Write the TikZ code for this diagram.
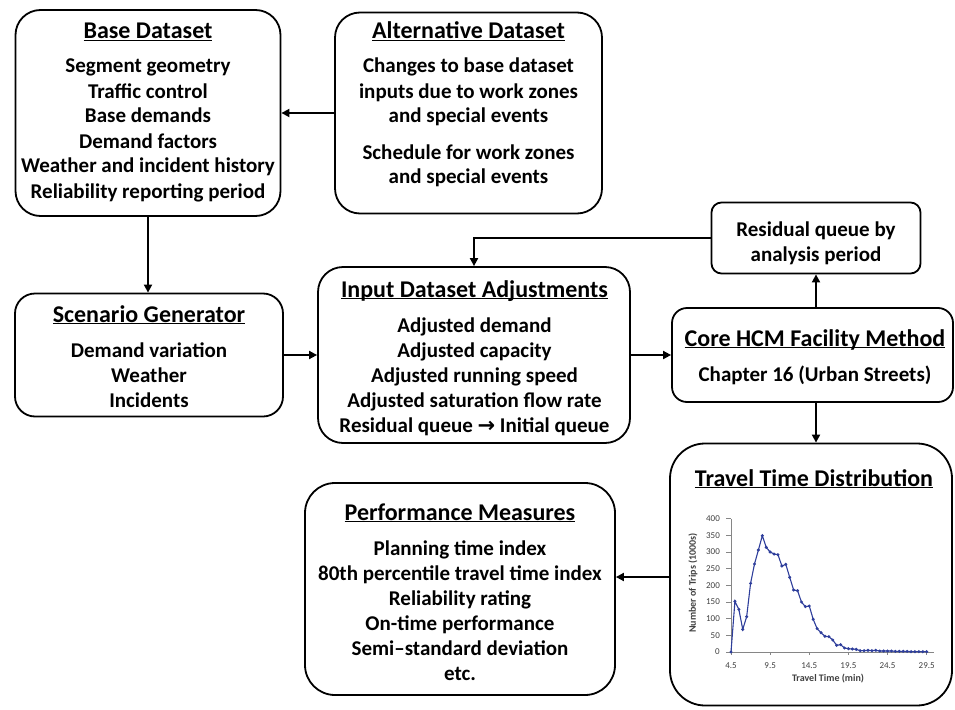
\documentclass[tikz,border=0pt]{standalone}
\usepackage{fontspec}
\setmainfont{Carlito}
\newfontfamily\arrowfnt{DejaVu Sans}
\usetikzlibrary{arrows.meta}
\definecolor{plotblue}{RGB}{46,62,155}
\definecolor{axisgray}{RGB}{134,134,134}
\definecolor{labgray}{RGB}{64,64,64}
\newcommand\bodyfnt{\fontsize{21}{25}\selectfont\bfseries}
\newcommand\ttlfnt{\fontsize{24}{25}\selectfont\bfseries}
\newcommand\ulttl[1]{{\ttlfnt\setbox0\hbox{#1}\rlap{\rule[-2.2pt]{\wd0}{1.1pt}}\box0}}
\begin{document}
\begin{tikzpicture}[x=1pt,y=-1pt,
  box/.style={draw, line width=1.8pt, inner sep=0pt},
  arr/.style={line width=1.8pt, -{Triangle[length=8pt,width=8pt]}},
  txt/.style={anchor=base, inner sep=0pt, font=\bodyfnt},
  tick/.style={inner sep=0pt, font=\fontsize{9}{10}\selectfont, text=labgray},
  axlab/.style={inner sep=0pt, font=\fontsize{10}{11}\selectfont\bfseries, text=labgray}]
\useasboundingbox (0,0) rectangle (955,709);

% boxes
\node[box, rounded corners=25pt, minimum width=265pt, minimum height=206pt] (base) at (148,113) {};
\node[box, rounded corners=25pt, minimum width=267pt, minimum height=201pt] (alt) at (468.5,113) {};
\node[box, rounded corners=20pt, minimum width=268pt, minimum height=123pt] (scen) at (149,355) {};
\node[box, rounded corners=25pt, minimum width=312pt, minimum height=176pt] (inp) at (474,355) {};
\node[box, rounded corners=10pt, minimum width=209pt, minimum height=71pt] (resid) at (816,238) {};
\node[box, rounded corners=15pt, minimum width=281pt, minimum height=94pt] (core) at (812.5,355) {};
\node[box, rounded corners=35pt, minimum width=282pt, minimum height=262pt] (trav) at (811,574.5) {};
\node[box, rounded corners=30pt, minimum width=310pt, minimum height=212pt] (perf) at (460,589) {};

% texts
\node[txt] (baset) at (148,39) {\begin{tabular}[t]{@{}c@{}}
\ulttl{Base Dataset}\\[9pt]
Segment geometry\\ Traffic control\\ Base demands\\ Demand factors\\
Weather and incident history\\ Reliability reporting period\end{tabular}};
\node[txt] (altt) at (468.5,39) {\begin{tabular}[t]{@{}c@{}}
\ulttl{Alternative Dataset}\\[9pt]
Changes to base dataset\\ inputs due to work zones\\ and special events\\[11pt]
Schedule for work zones\\ and special events\end{tabular}};
\node[txt] (scent) at (149,322) {\begin{tabular}[t]{@{}c@{}}
\ulttl{Scenario Generator}\\[10pt]
Demand variation\\ Weather\\ Incidents\end{tabular}};
\node[txt] (inpt) at (474.5,297) {\begin{tabular}[t]{@{}c@{}}
\ulttl{Input Dataset Adjustments}\\[10pt]
Adjusted demand\\ Adjusted capacity\\ Adjusted running speed\\
Adjusted saturation flow rate\\ Residual queue {\arrowfnt\bfseries →} Initial queue\end{tabular}};
\node[txt] (residt) at (816,236.7) {\begin{tabular}[t]{@{}c@{}}
Residual queue by\\ analysis period\end{tabular}};
\node[txt] (coret) at (815,346) {\begin{tabular}[t]{@{}c@{}}
\ulttl{Core HCM Facility Method}\\[10pt]
Chapter 16 (Urban Streets)\end{tabular}};
\node[txt] (travt) at (814,486) {\ulttl{Travel Time Distribution}};
\node[txt] (perft) at (460,520) {\begin{tabular}[t]{@{}c@{}}
\ulttl{Performance Measures}\\[10pt]
Planning time index\\ 80th percentile travel time index\\ Reliability rating\\
On-time performance\\ Semi–standard deviation\\ etc.\end{tabular}};

% connectors
\coordinate (pm) at (0,577);
\draw[arr] (alt.west) -- (base.east);
\draw[arr] (base.south) -- (base.south |- scen.north);
\draw[arr] (scen.east) -- (scen.east -| inp.west);
\draw[arr] (inp.east) -- (inp.east -| core.west);
\draw[arr] (core.north -| resid.south) -- (resid.south);
\draw[arr] (resid.west) -| (inp.north);
\draw[arr] (core.south -| resid.south) -- (resid.south |- trav.north);
\draw[arr] (trav.west |- pm) -- (perf.east |- pm);

% chart
\node[axlab, rotate=90] (ylab) at (693,583) {Number of Trips (1000s)};
\node[axlab] (xlab) at (828,679) {Travel Time (min)};
\begin{scope}[shift={(731,652)}, x=7.828pt, y=0.3333pt]
  \draw[axisgray, line width=0.8pt] (0,0) -- (0,400);
  \draw[axisgray, line width=0.8pt] (0,0) -- (25.9,0);
  \foreach \v in {0,50,...,400} {
    \draw[axisgray, line width=0.7pt] (0,\v) -- ++(-5pt,0pt);
    \node[tick, anchor=east, xshift=-11pt] (yl\v) at (0,\v) {\v};
  }
  \foreach \k/\lab in {0/4.5,5/9.5,10/14.5,15/19.5,20/24.5,25/29.5} {
    \draw[axisgray, line width=0.7pt] (\k,0) -- ++(0pt,-3pt);
    \node[tick, yshift=-14pt] (xl\k) at (\k,0) {\lab};
  }
  \draw[plotblue, line width=1.1pt, mark=*, mark size=0.9pt, mark options={fill=plotblue}]
    plot coordinates {(0,0) (0.5,152) (1,128) (1.5,68) (2,106) (2.5,206) (3,264) (3.5,306)
    (4,349) (4.5,314) (5,300) (5.5,294) (6,292) (6.5,258) (7,263) (7.5,224) (8,186)
    (8.5,184) (9,150) (9.5,136) (10,138) (10.5,98) (11,70) (11.5,58) (12,47) (12.5,46)
    (13,36) (13.5,20) (14,22) (14.5,12) (15,10) (15.5,9) (16,8) (16.5,4) (17,4) (17.5,5)
    (18,4) (18.5,5) (19,3) (19.5,3) (20,3) (20.5,3) (21,2) (21.5,2) (22,2) (22.5,2)
    (23,1) (23.5,1) (24,1) (24.5,1) (25,1)};
\end{scope}
\end{tikzpicture}
\end{document}
